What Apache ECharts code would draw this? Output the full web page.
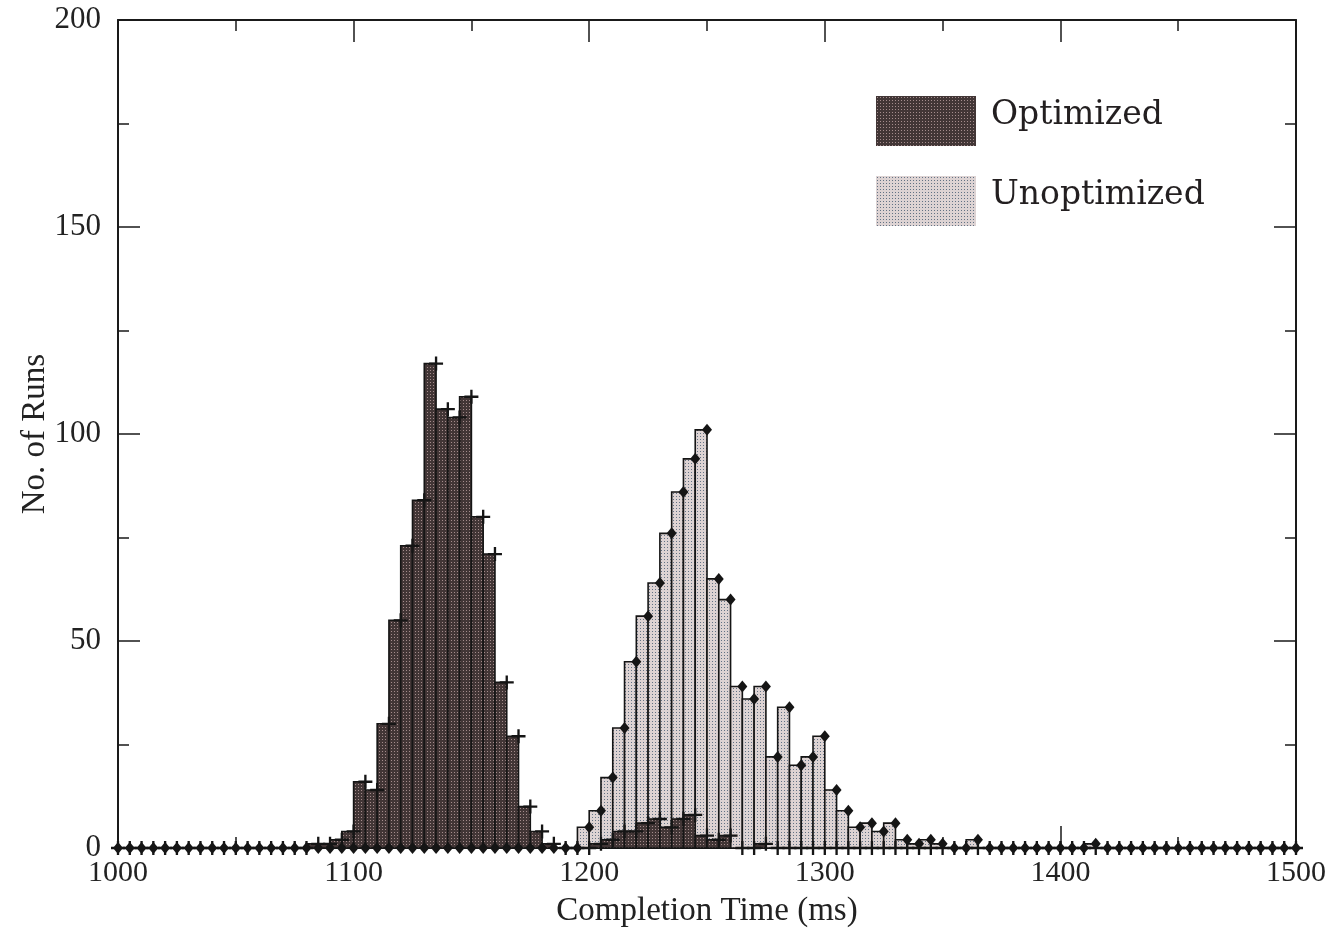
<!DOCTYPE html>
<html>
<head>
<meta charset="utf-8">
<script src="https://cdn.jsdelivr.net/npm/echarts@6/dist/echarts.min.js"></script>
<style>
  html, body { margin: 0; padding: 0; background: #ffffff; }
  #chart { width: 1336px; height: 929px; }
</style>
</head>
<body>
<div id="chart"></div>
<script>
// ---- data (histogram bins, 5 ms wide; value given at the bin's right edge) ----
const binStart = 1000;
const binWidth = 5;
const seriesNames = ['Optimized', 'Unoptimized'];
const xAxisTitle = 'Completion Time (ms)';
const yAxisTitle = 'No. of Runs';

const optimizedCounts = [
  0, 0, 0, 0, 0, 0, 0, 0, 0, 0,          // 1000-1045
  0, 0, 0, 0, 0, 0, 0, 1, 1, 2,          // 1050-1095
  4, 16, 14, 30, 55, 73, 84, 117, 106, 104, // 1100-1145
  109, 80, 71, 40, 27, 10, 4, 1, 0, 0,   // 1150-1195
  0, 1, 2, 4, 4, 6, 7, 5, 7, 8,          // 1200-1245
  3, 2, 3, 0, 0, 1, 0, 0, 0, 0,          // 1250-1295
  0, 0, 0, 0, 0, 0, 0, 0, 0, 0,          // 1300-1345
  0, 0, 0, 0, 0, 0, 0, 0, 0, 0,          // 1350-1395
  0, 0, 0, 0, 0, 0, 0, 0, 0, 0,          // 1400-1445
  0, 0, 0, 0, 0, 0, 0, 0, 0, 0,          // 1450-1495
  0                                      // 1500
];

const unoptimizedCounts = [
  0, 0, 0, 0, 0, 0, 0, 0, 0, 0,          // 1000-1045
  0, 0, 0, 0, 0, 0, 0, 0, 0, 0,          // 1050-1095
  0, 0, 0, 0, 0, 0, 0, 0, 0, 0,          // 1100-1145
  0, 0, 0, 0, 0, 0, 0, 0, 0, 0,          // 1150-1195
  5, 9, 17, 29, 45, 56, 64, 76, 86, 94,  // 1200-1245
  101, 65, 60, 39, 36, 39, 22, 34, 20, 22, // 1250-1295
  27, 14, 9, 5, 6, 4, 6, 2, 1, 2,        // 1300-1345
  1, 0, 0, 2, 0, 0, 0, 0, 0, 0,          // 1350-1395
  0, 0, 0, 1, 0, 0, 0, 0, 0, 0,          // 1400-1445
  0, 0, 0, 0, 0, 0, 0, 0, 0, 0,          // 1450-1495
  0                                      // 1500
];

const xTickMin = 1000, xTickMax = 1500, xTickStep = 100;
const yTickMin = 0, yTickMax = 200, yTickStep = 50;

// ---- build ----
const binEdges = optimizedCounts.map(function (_, i) { return binStart + i * binWidth; });
const optData = binEdges.map(function (x, i) { return [x, optimizedCounts[i]]; });
const unoptData = binEdges.map(function (x, i) { return [x, unoptimizedCounts[i]]; });

function makePattern(bg, dot) {
  const c = document.createElement('canvas');
  c.width = 3; c.height = 3;
  const g = c.getContext('2d');
  g.fillStyle = bg; g.fillRect(0, 0, 3, 3);
  g.fillStyle = dot; g.fillRect(1, 1, 1, 1);
  return { image: c, repeat: 'repeat' };
}
const optFill = makePattern('#423636', '#a48c8c');
const unoptFill = makePattern('#ddd3d3', '#627284');

function histRender(params, api) {
  const x = api.value(0), y = api.value(1);
  if (!(y > 0)) return null;
  const pTop = api.coord([x - binWidth, y]);
  const pBase = api.coord([x, 0]);
  return {
    type: 'rect',
    shape: { x: pTop[0], y: pTop[1], width: pBase[0] - pTop[0], height: pBase[1] - pTop[1] },
    style: { fill: api.visual('color'), stroke: '#151515', lineWidth: 1.6 }
  };
}

const serif = 'Liberation Serif, Times New Roman, serif';
const axisLineStyle = { color: '#1a1a1a', width: 2 };
function plainNumber(v) { return String(v); }

function xAxisDef(pos, showLabel) {
  return {
    type: 'value', position: pos, min: xTickMin, max: xTickMax, interval: xTickStep,
    splitLine: { show: false },
    axisLine: { show: true, onZero: false, lineStyle: axisLineStyle },
    axisTick: { show: true, inside: true, length: 22, lineStyle: { color: '#1a1a1a', width: 1.5 } },
    minorTick: { show: true, splitNumber: 2, length: 11, lineStyle: { color: '#1a1a1a', width: 1.5 } },
    axisLabel: { show: showLabel, margin: 10, formatter: plainNumber, fontFamily: serif, fontSize: 30, color: '#222' },
    name: showLabel ? xAxisTitle : '',
    nameLocation: 'middle', nameGap: 47, nameMoveOverlap: false,
    nameTextStyle: { fontFamily: serif, fontSize: 33, color: '#222' }
  };
}
function yAxisDef(pos, showLabel) {
  return {
    type: 'value', position: pos, min: yTickMin, max: yTickMax, interval: yTickStep,
    splitLine: { show: false },
    axisLine: { show: true, onZero: false, lineStyle: axisLineStyle },
    axisTick: { show: true, inside: true, length: 22, lineStyle: { color: '#1a1a1a', width: 1.5 } },
    minorTick: { show: true, splitNumber: 2, length: 11, lineStyle: { color: '#1a1a1a', width: 1.5 } },
    axisLabel: { show: showLabel, margin: 17, formatter: plainNumber, fontFamily: serif, fontSize: 31, color: '#222' },
    name: showLabel ? yAxisTitle : '',
    nameLocation: 'middle', nameGap: 66, nameRotate: 90, nameMoveOverlap: false,
    nameTextStyle: { fontFamily: serif, fontSize: 33, color: '#222' }
  };
}

const chart = echarts.init(document.getElementById('chart'), null, { renderer: 'canvas' });
chart.setOption({
  backgroundColor: '#ffffff',
  animation: false,
  grid: { left: 118, right: 40, top: 20, bottom: 81, containLabel: false, outerBoundsMode: 'none' },
  legend: {
    data: seriesNames,
    orient: 'vertical', left: 876, top: 96, padding: 0,
    itemWidth: 100, itemHeight: 50, itemGap: 30,
    icon: 'rect', selectedMode: false,
    formatter: '{t|{name}}',
    textStyle: {
      fontFamily: 'DejaVu Serif, serif', fontSize: 33, color: '#231f20',
      rich: { t: { fontFamily: 'DejaVu Serif, serif', fontSize: 33, color: '#231f20', padding: [0, 0, 12, 10] } }
    }
  },
  xAxis: [xAxisDef('bottom', true), xAxisDef('top', false)],
  yAxis: [yAxisDef('left', true), yAxisDef('right', false)],
  series: [
    {
      name: seriesNames[1], type: 'custom', renderItem: histRender,
      itemStyle: { color: unoptFill }, encode: { x: 0, y: 1 },
      data: unoptData, z: 2, silent: true
    },
    {
      name: seriesNames[0], type: 'custom', renderItem: histRender,
      itemStyle: { color: optFill }, encode: { x: 0, y: 1 },
      data: optData, z: 3, silent: true
    },
    {
      name: 'optMarkers', type: 'scatter', data: optData, z: 5, silent: true,
      symbol: 'path://M5,0H7V5H12V7H7V12H5V7H0V5H5Z', symbolSize: 14,
      itemStyle: { color: '#151515', opacity: 1 }
    },
    {
      name: 'unoptMarkers', type: 'scatter', data: unoptData, z: 6, silent: true,
      symbol: 'diamond', symbolSize: [10, 12],
      itemStyle: { color: '#151515', opacity: 1 }
    }
  ]
});
</script>
</body>
</html>
